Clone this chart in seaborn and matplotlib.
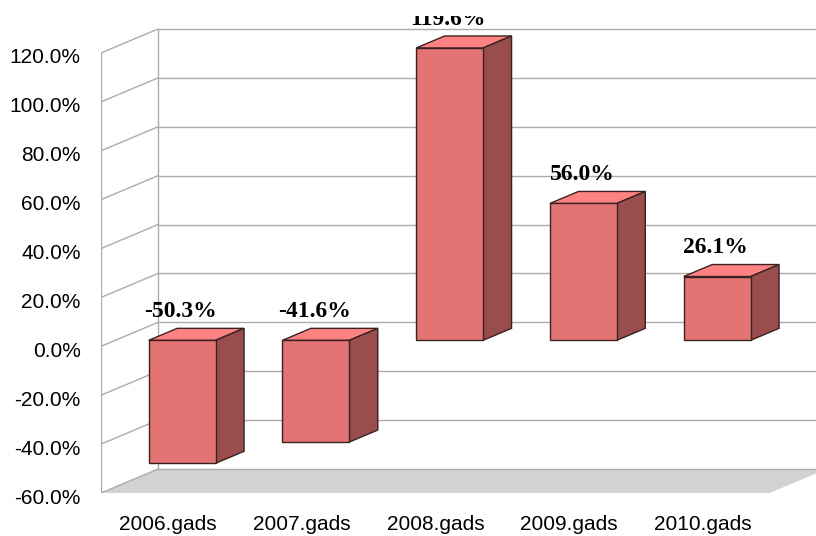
import matplotlib
matplotlib.use("Agg")
import matplotlib.pyplot as plt
import matplotlib.transforms as mtrans
import seaborn as sns
import pandas as pd
from matplotlib.patches import Polygon, Rectangle

# ---- data ----
categories = ["2006.gads", "2007.gads", "2008.gads", "2009.gads", "2010.gads"]
values = [-50.3, -41.6, 119.6, 56.0, 26.1]
y_ticks = [-60, -40, -20, 0, 20, 40, 60, 80, 100, 120]
y_tick_labels = [f"{t:.1f}%" for t in y_ticks]

# ---- style ----
sns.set_style("white")
plt.rcParams['font.family'] = ['Liberation Sans', 'DejaVu Sans']

FRONT = "#E47373"
TOP = "#FF8282"
SIDE = "#9A4D4D"
EDGE = "#3A2222"
GRID = "#B3A9A9"
FLOOR = "#D2D2D2"

W, H = 816, 536
fig = plt.figure(figsize=(W / 100, H / 100), dpi=100)
ax = fig.add_axes([101 / W, 43 / H, 715 / W, 493 / H])

PX_PER_Y = 440 / 180.0
PX_PER_X = 133.75
DX = 57 / PX_PER_X   # full depth in category units
DY = 24 / PX_PER_Y   # full depth in value units
YMIN, YMAX = y_ticks[0], y_ticks[-1]
n = len(categories)
XL, XR = -0.5, n - 0.5

# floor
ax.add_patch(Polygon([(XL, YMIN), (XR, YMIN), (XR + DX, YMIN + DY), (XL + DX, YMIN + DY)],
                     closed=True, facecolor=FLOOR, edgecolor="none", zorder=0.5))
# back wall and side wall gridlines
for t in y_ticks:
    ax.plot([XL + DX, XR + DX], [t + DY, t + DY], color=GRID, lw=1, zorder=0.6)
    ax.plot([XL, XL + DX], [t, t + DY], color=GRID, lw=1, zorder=0.6)
ax.plot([XL + DX, XL + DX], [YMIN + DY, YMAX + DY], color=GRID, lw=1, zorder=0.6)
ax.plot([XL, XL], [YMIN, YMAX], color=GRID, lw=1, zorder=0.6)

# front faces through seaborn
df = pd.DataFrame({"cat": categories, "val": values})
sns.barplot(data=df, x="cat", y="val", ax=ax, width=0.5, color=FRONT, saturation=1,
            edgecolor=EDGE, linewidth=1, zorder=3)

d0, d1 = 0.25, 0.75
for p in ax.patches:
    if isinstance(p, Rectangle) and p.get_width() == 0.5:
        p.set_x(p.get_x() + d0 * DX)
        p.set_y(p.get_y() + d0 * DY)
        p.set_zorder(3)

for i, v in enumerate(values):
    top = max(v, 0.0)
    bot = min(v, 0.0)
    x0 = i - 0.25
    x1 = i + 0.25
    # top face
    ax.add_patch(Polygon([(x0 + d0 * DX, top + d0 * DY), (x1 + d0 * DX, top + d0 * DY),
                          (x1 + d1 * DX, top + d1 * DY), (x0 + d1 * DX, top + d1 * DY)],
                         closed=True, facecolor=TOP, edgecolor=EDGE, lw=1, zorder=2.5))
    # side face
    ax.add_patch(Polygon([(x1 + d0 * DX, bot + d0 * DY), (x1 + d1 * DX, bot + d1 * DY),
                          (x1 + d1 * DX, top + d1 * DY), (x1 + d0 * DX, top + d0 * DY)],
                         closed=True, facecolor=SIDE, edgecolor=EDGE, lw=1, zorder=2.5))
    ax.annotate(f"{v:.1f}%", xy=(i + d0 * DX, top + d0 * DY), xytext=(-1, 16.6),
                textcoords="offset points", ha="center", va="baseline",
                fontsize=17, fontweight="bold", family=["Liberation Serif", "DejaVu Serif"],
                color="black", zorder=5, annotation_clip=False)

ax.set_xlim(XL, XL + 715 / PX_PER_X)
ax.set_ylim(YMIN, YMIN + 493 / PX_PER_Y)
ax.set_yticks(y_ticks)
ax.set_yticklabels(y_tick_labels)
ax.set_xlabel("")
ax.set_ylabel("")
for s in ax.spines.values():
    s.set_visible(False)
ax.tick_params(axis="y", length=0, pad=14.5, labelsize=15, colors="black")
ax.tick_params(axis="x", length=0, pad=15.8, labelsize=15, colors="black")
ax.grid(False)

# y tick labels sit a few pixels low in the reference
off = mtrans.ScaledTranslation(0, -3 / 100, fig.dpi_scale_trans)
for lab in ax.get_yticklabels():
    lab.set_transform(lab.get_transform() + off)

# the chart area clips the top strip of the picture (cuts the 119.6% label)
fig.add_artist(Rectangle((0, (H - 16) / H), 1, 16 / H, transform=fig.transFigure,
                         facecolor="white", edgecolor="none", zorder=20))

fig.savefig("out.png", dpi=100)
